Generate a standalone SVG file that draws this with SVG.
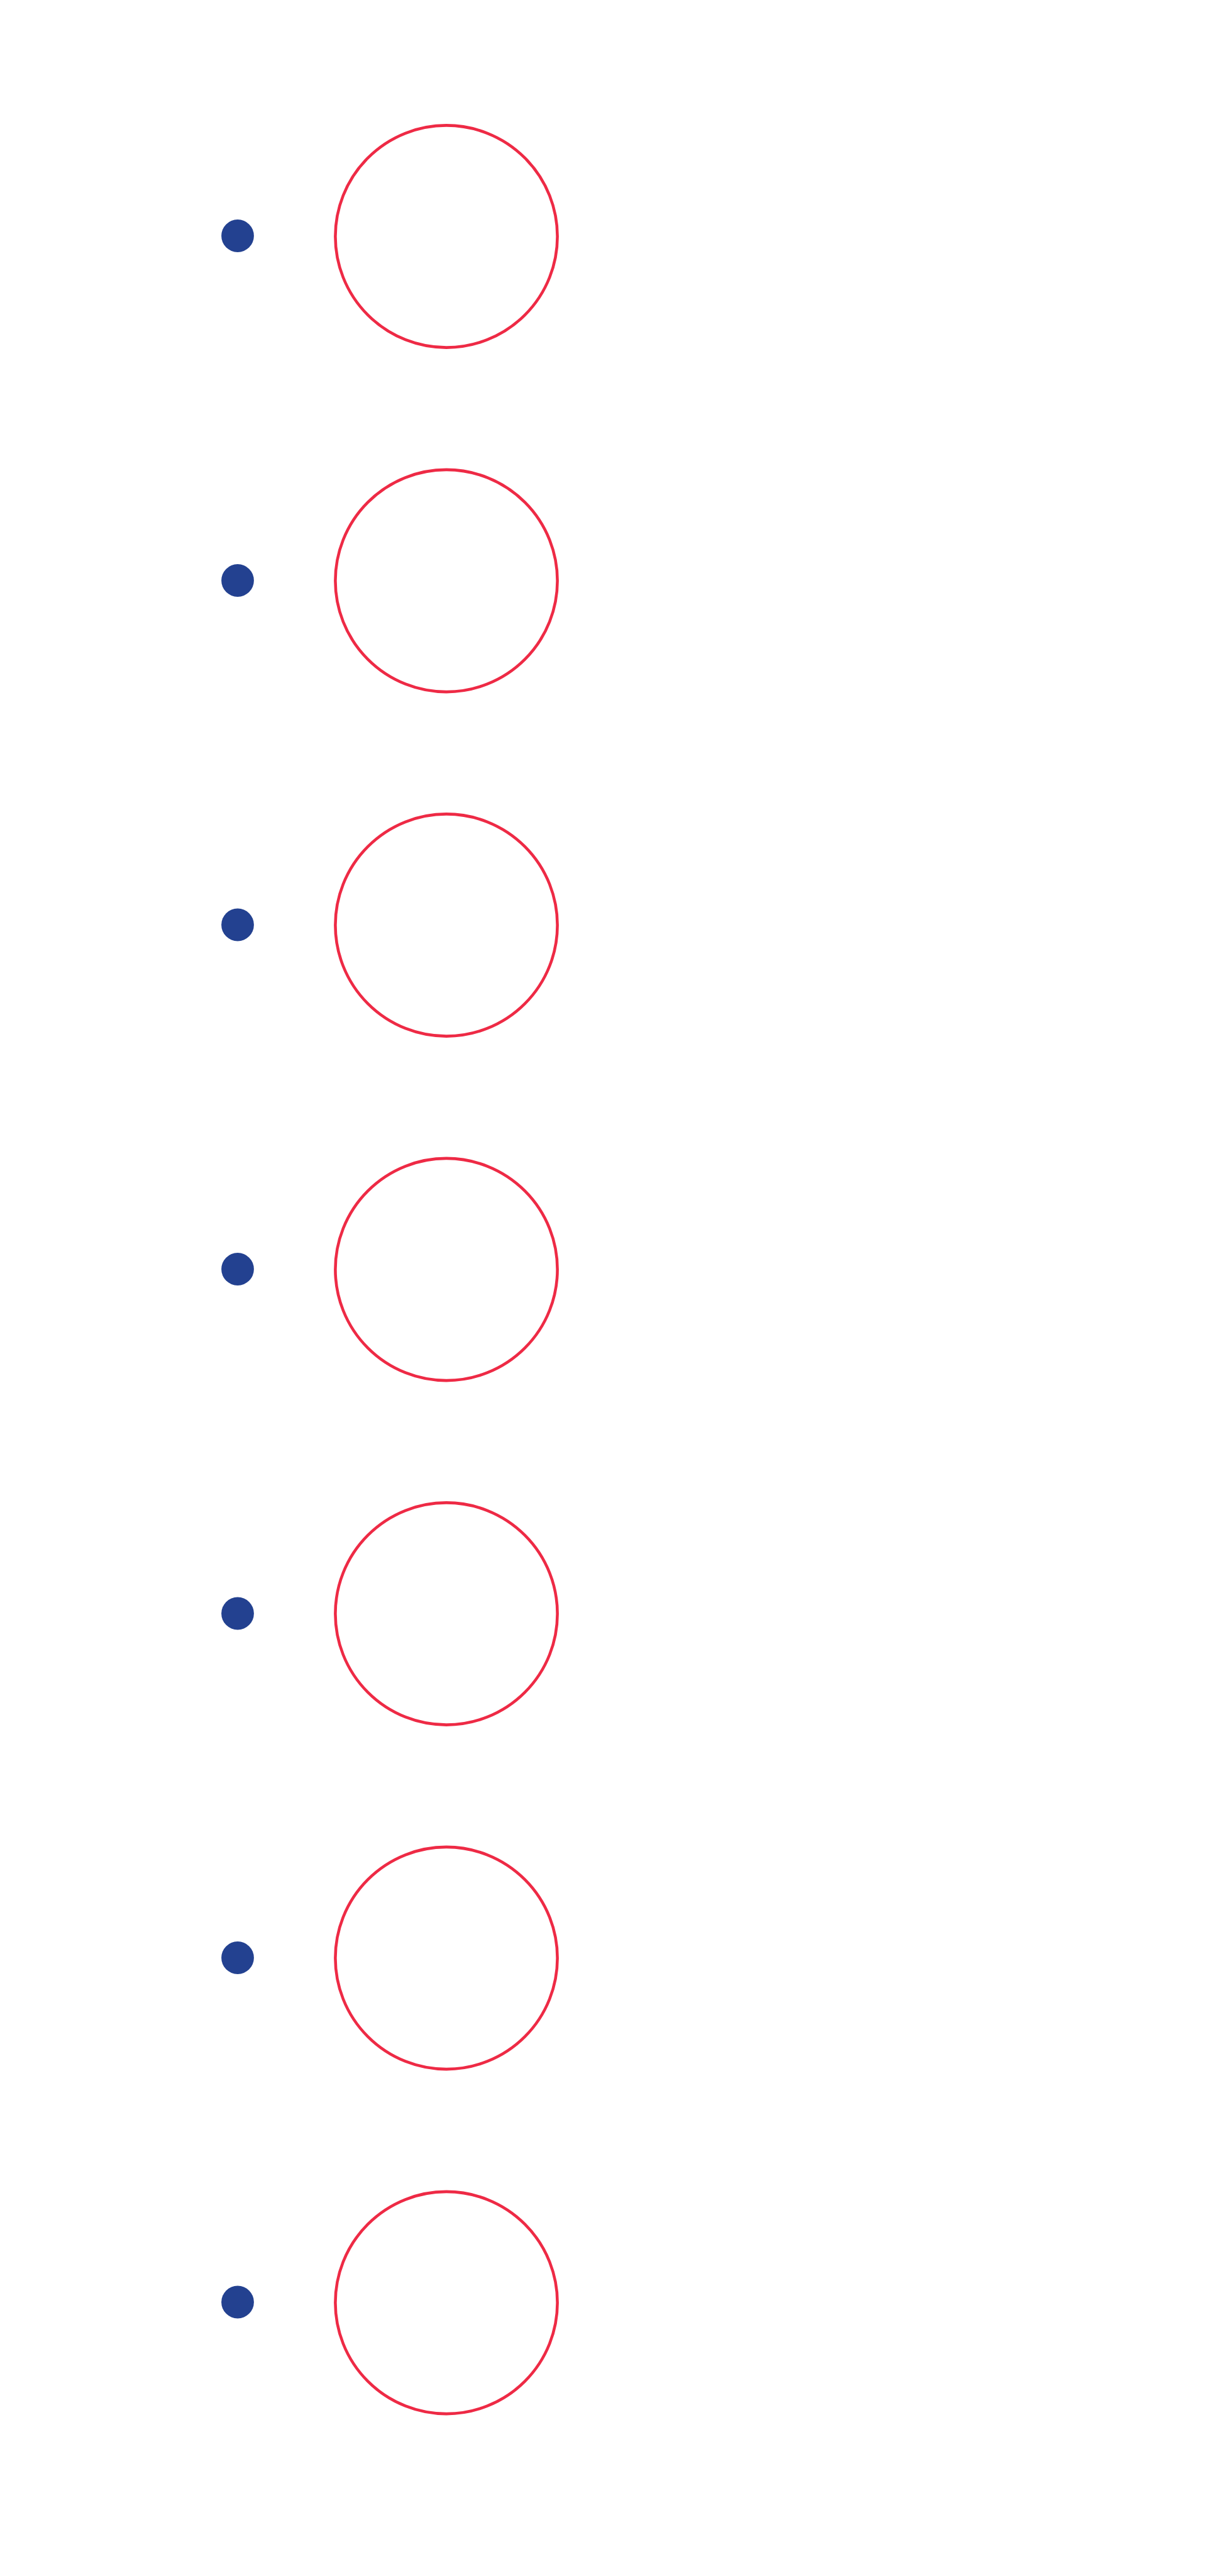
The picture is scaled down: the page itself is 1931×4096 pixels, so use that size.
<svg xmlns="http://www.w3.org/2000/svg" width="1931" height="4096" viewBox="0 0 1931 4096">
<style>
.dot{fill:#234190}
.ring{fill:none;stroke:#EE2A45;stroke-width:4.6}
</style>
<rect width="1931" height="4096" fill="#fff"/>
<g id="row1"><circle class="dot" cx="378" cy="375" r="25.9"/><circle class="ring" cx="710" cy="376" r="176.6"/></g>
<g id="row2"><circle class="dot" cx="378" cy="923" r="25.9"/><circle class="ring" cx="710" cy="923.5" r="176.6"/></g>
<g id="row3"><circle class="dot" cx="378" cy="1470.5" r="25.9"/><circle class="ring" cx="710" cy="1471" r="176.6"/></g>
<g id="row4"><circle class="dot" cx="378" cy="2018" r="25.9"/><circle class="ring" cx="710" cy="2018.5" r="176.6"/></g>
<g id="row5"><circle class="dot" cx="378" cy="2565.5" r="25.9"/><circle class="ring" cx="710" cy="2566" r="176.6"/></g>
<g id="row6"><circle class="dot" cx="378" cy="3113" r="25.9"/><circle class="ring" cx="710" cy="3113.5" r="176.6"/></g>
<g id="row7"><circle class="dot" cx="378" cy="3660.5" r="25.9"/><circle class="ring" cx="710" cy="3661.5" r="176.6"/></g>
<g id="connectors"></g>
</svg>
